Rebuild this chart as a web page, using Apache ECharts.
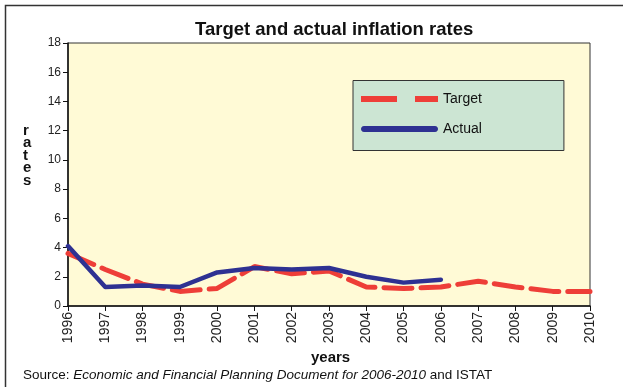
<!DOCTYPE html>
<html>
<head>
<meta charset="utf-8">
<script src="https://cdn.jsdelivr.net/npm/echarts@6/dist/echarts.min.js"></script>
<style>
  html, body { margin: 0; padding: 0; background: #ffffff; }
  #chart { width: 623px; height: 387px; }
</style>
</head>
<body>
<div id="chart"></div>
<script>
// Years on the horizontal axis
const years = ['1996', '1997', '1998', '1999', '2000', '2001', '2002', '2003',
  '2004', '2005', '2006', '2007', '2008', '2009', '2010'];

// Programmed (target) inflation rate, %
const targetRates = [3.6, 2.5, 1.5, 1.0, 1.2, 2.7, 2.2, 2.4, 1.3, 1.2, 1.3, 1.7, 1.3, 1.0, 1.0];

// Actual inflation rate, % (data available up to 2006)
const actualRates = [4.1, 1.3, 1.4, 1.3, 2.3, 2.6, 2.5, 2.6, 2.0, 1.6, 1.8, null, null, null, null];

// Value axis ticks
const rateTicks = [0, 2, 4, 6, 8, 10, 12, 14, 16, 18];

const FONT = '"Liberation Sans", Arial, Helvetica, sans-serif';

// Legend swatches: a broken red bar and a solid rounded blue bar
const DASH_ICON = 'path://M0,0H36V6H0ZM54,0H77V6H54Z';
const SOLID_ICON = 'path://M3,0H74C78,0 78,6 74,6H3C-1,6 -1,0 3,0Z';

const chart = echarts.init(document.getElementById('chart'), null, { renderer: 'canvas' });

chart.setOption({
  animation: false,
  backgroundColor: '#ffffff',
  textStyle: { fontFamily: FONT },
  title: {
    text: 'Target and actual inflation rates',
    left: 190,
    top: 15,
    textStyle: { fontFamily: FONT, fontSize: 18.5, fontWeight: 'bold', color: '#111' }
  },
  grid: {
    left: 68, right: 33, top: 43, bottom: 81,
    show: true,
    backgroundColor: '#FFFAD6',
    borderColor: '#333',
    borderWidth: 1
  },
  legend: {
    orient: 'vertical',
    left: 353,
    top: 80.5,
    padding: [11.5, 82, 14.5, 8],
    itemWidth: 77,
    itemHeight: 6,
    itemGap: 16,
    backgroundColor: '#CCE5D3',
    borderColor: '#333',
    borderWidth: 1,
    textStyle: { fontFamily: FONT, fontSize: 14, lineHeight: 14, color: '#111' },
    data: [
      { name: 'Target', icon: DASH_ICON },
      { name: 'Actual', icon: SOLID_ICON }
    ]
  },
  xAxis: {
    type: 'category',
    data: years,
    boundaryGap: false,
    axisLine: { lineStyle: { color: '#111', width: 1.5 } },
    axisTick: { show: true, length: 5, lineStyle: { color: '#111' } },
    axisLabel: {
      rotate: 90,
      margin: 6,
      fontFamily: FONT,
      fontSize: 14,
      color: '#222',
      interval: 0
    },
    splitLine: { show: false }
  },
  yAxis: {
    type: 'value',
    min: rateTicks[0],
    max: rateTicks[rateTicks.length - 1],
    interval: rateTicks[1] - rateTicks[0],
    axisLine: { show: true, lineStyle: { color: '#111', width: 1.5 } },
    axisTick: { show: true, length: 5, lineStyle: { color: '#111' } },
    axisLabel: { margin: 7, fontFamily: FONT, fontSize: 12, color: '#222' },
    splitLine: { show: false }
  },
  series: [
    {
      name: 'Target',
      type: 'line',
      data: targetRates,
      symbol: 'none',
      color: '#EE3E38',
      lineStyle: { color: '#EE3E38', width: 5, type: [28, 9], cap: 'round' },
      z: 2
    },
    {
      name: 'Actual',
      type: 'line',
      data: actualRates,
      symbol: 'none',
      connectNulls: false,
      color: '#2E3192',
      lineStyle: { color: '#2E3192', width: 4.5, cap: 'round', join: 'round' },
      z: 3
    }
  ],
  graphic: [
    // outer frame (left and top edges)
    {
      type: 'polyline',
      silent: true,
      shape: { points: [[5.5, 400], [5.5, 5.5], [630, 5.5]] },
      style: { stroke: '#333', lineWidth: 1.5, fill: null }
    },
    // vertical value-axis title
    {
      type: 'text',
      left: 23,
      top: 123,
      style: {
        text: 'r\na\nt\ne\ns',
        font: 'bold 15px ' + FONT,
        lineHeight: 12.5,
        align: 'center',
        fill: '#111'
      }
    },
    // category-axis title
    {
      type: 'text',
      left: 311,
      top: 350,
      style: {
        text: 'years',
        font: 'bold 15px ' + FONT,
        fill: '#111'
      }
    },
    // source note
    {
      type: 'text',
      left: 23,
      top: 368,
      style: {
        text: '{r|Source: }{i|Economic and Financial Planning Document for 2006-2010}{r| and ISTAT}',
        rich: {
          r: { fontFamily: FONT, fontSize: 13.5, fill: '#111' },
          i: { fontFamily: FONT, fontSize: 13.5, fontStyle: 'italic', fill: '#111' }
        }
      }
    }
  ]
});
</script>
</body>
</html>
